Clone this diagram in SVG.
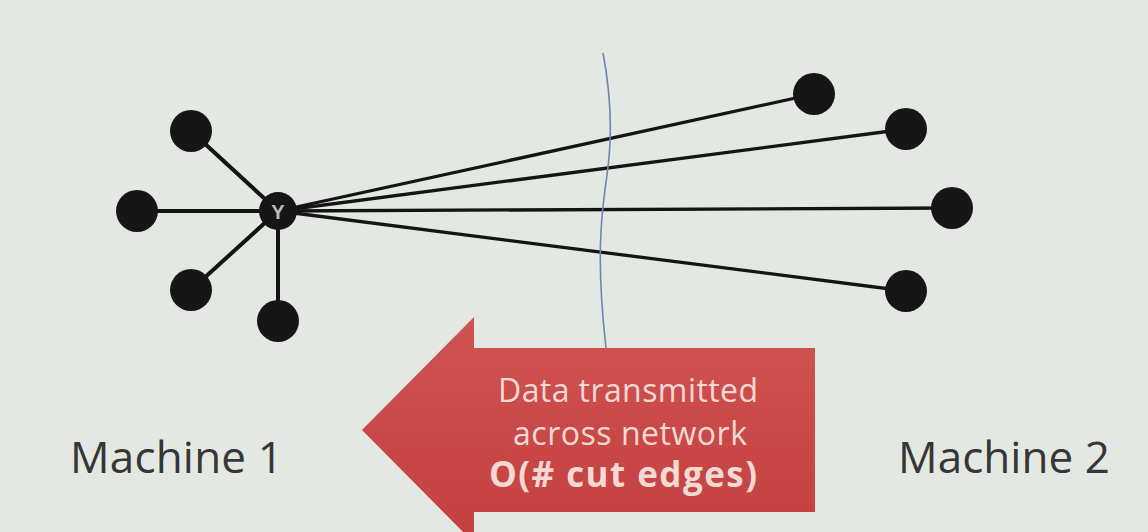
<svg xmlns="http://www.w3.org/2000/svg" width="1148" height="532" viewBox="0 0 1148 532">
<defs>
<style>
.node{fill:#161616}
.edge{stroke:#141414;stroke-linecap:round;fill:none}
.lbl{font-family:"Open Sans","Liberation Sans",sans-serif;font-size:44px;fill:#363636}
.atxt{font-family:"Open Sans","Liberation Sans",sans-serif;font-size:32px;fill:#f4d9d3;text-anchor:middle}
.bold{font-weight:bold;font-size:35px}
</style>
<linearGradient id="ag" x1="0" y1="0" x2="0" y2="1">
<stop offset="0" stop-color="#cf5352"/>
<stop offset="1" stop-color="#c4403f"/>
</linearGradient>
</defs>
<rect width="1148" height="532" fill="#e3e8e3"/>
<g id="connectors">
<line class="edge" x1="278" y1="211" x2="191" y2="131" stroke-width="4"/>
<line class="edge" x1="278" y1="211" x2="137" y2="211" stroke-width="4"/>
<line class="edge" x1="278" y1="211" x2="191" y2="290" stroke-width="4"/>
<line class="edge" x1="278" y1="211" x2="278" y2="321" stroke-width="4"/>
<line class="edge" x1="278" y1="211" x2="814" y2="94" stroke-width="3.3"/>
<line class="edge" x1="278" y1="211" x2="906" y2="129" stroke-width="3.3"/>
<line class="edge" x1="278" y1="211" x2="952" y2="208" stroke-width="3.3"/>
<line class="edge" x1="278" y1="211" x2="906" y2="291" stroke-width="3.3"/>
</g>
<g id="cut">
<path d="M603,53 C612,100 612,140 607,175 C601,215 596,260 606,348" fill="none" stroke="#6f84b3" stroke-width="1.6"/>
</g>
<g id="n1"><circle class="node" cx="191" cy="131" r="21"/></g>
<g id="n2"><circle class="node" cx="137" cy="211" r="21"/></g>
<g id="n3"><circle class="node" cx="191" cy="290" r="21"/></g>
<g id="n4"><circle class="node" cx="278" cy="321" r="21"/></g>
<g id="y">
<circle class="node" cx="278" cy="211" r="19"/>
<text x="278" y="219" font-family="Liberation Sans,sans-serif" font-size="20" font-weight="bold" fill="#bdbdbd" text-anchor="middle">Y</text>
</g>
<g id="m1"><circle class="node" cx="814" cy="94" r="21"/></g>
<g id="m2"><circle class="node" cx="906" cy="129" r="21"/></g>
<g id="m3"><circle class="node" cx="952" cy="208" r="21"/></g>
<g id="m4"><circle class="node" cx="906" cy="291" r="21"/></g>
<g id="arrow">
<path d="M362,430 L474,317 L474,348 L815,348 L815,512 L474,512 L474,543 Z" fill="url(#ag)"/>
<text class="atxt" x="628" y="402" textLength="260">Data transmitted</text>
<text class="atxt" x="630" y="445" textLength="234">across network</text>
<text class="atxt bold" x="623" y="487" textLength="268">O(# cut edges)</text>
</g>
<text class="lbl" x="70" y="473" textLength="213">Machine 1</text>
<text class="lbl" x="898" y="473" textLength="212">Machine 2</text>
</svg>
